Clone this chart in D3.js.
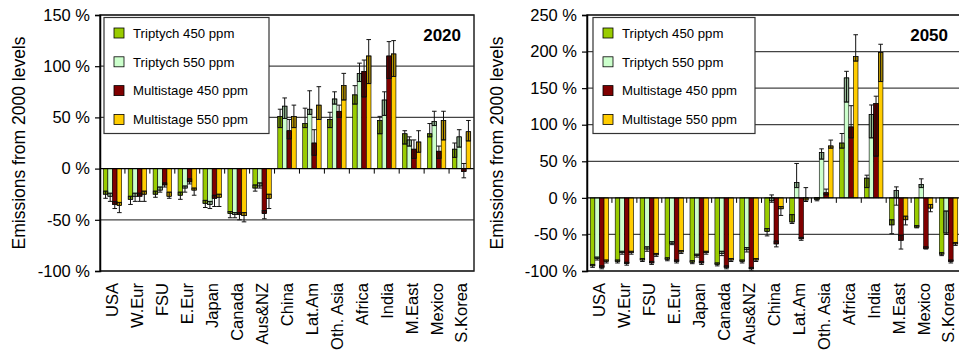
<!DOCTYPE html>
<html><head><meta charset="utf-8">
<script src="https://cdn.jsdelivr.net/npm/d3@7"></script>
<style>
html,body{margin:0;padding:0;background:#fff;}
svg{display:block;font-family:"Liberation Sans",Arial,sans-serif;}
</style></head>
<body><svg id="c" width="959" height="360"></svg>
<script>
const categories = ["USA","W.Eur","FSU","E.Eur","Japan","Canada","Aus&NZ","China","Lat.Am","Oth. Asia","Africa","India","M.East","Mexico","S.Korea"];
const seriesNames = ["Triptych 450 ppm","Triptych 550 ppm","Multistage 450 ppm","Multistage 550 ppm"];
const seriesColors = ["#99cc00","#ccffcc","#800000","#ffcc00"];
const ticks2020 = [-100,-50,0,50,100,150];
const ticks2050 = [-100,-50,0,50,100,150,200,250];

// 2020 values (% change from 2000), with error-range low / high
const t450_2020     = [-25,-30,-25,-26,-34,-44,-19, 51, 44, 48, 72, 47, 34, 34, 19];
const t450_2020_lo  = [-29,-35,-28,-30,-38,-48,-22, 40, 40, 40, 63, 34, 24, 31, 11];
const t450_2020_hi  = [-22,-27,-22,-23,-31,-42,-16, 58, 59, 55, 81, 51, 37, 44, 25];
const t550_2020     = [-27,-27,-21,-19,-35,-45,-17, 61, 58, 68, 93, 67, 28, 46, 31];
const t550_2020_lo  = [-32,-32,-23,-23,-39,-48,-19, 49, 53, 63, 85, 52, 22, 42, 21];
const t550_2020_hi  = [-24,-24,-18,-17,-32,-43,-14, 69, 76, 75,103, 75, 31, 56, 38];
const m450_2020     = [-35,-27,-16,-13,-29,-45,-44, 37, 25, 56, 95,110, 19, 17, -3];
const m450_2020_lo  = [-39,-32,-18,-15,-37,-50,-49, 29, 13, 50, 70, 88, 10, 10, -9];
const m450_2020_hi  = [-32,-24,-14,-10,-26,-43,-41, 48, 38, 62,106,124, 28, 22,  5];
const m550_2020     = [-36,-25,-27,-21,-28,-46,-29, 51, 62, 81,110,112, 26, 47, 36];
const m550_2020_lo  = [-43,-32,-29,-26,-37,-52,-39, 40, 48, 67, 83, 90, 16, 28, 27];
const m550_2020_hi  = [-33,-22,-23,-19,-25,-43,-25, 62, 80, 93,126,125, 37, 56, 47];

// 2050 values
const t450_2050     = [-93,-87,-85,-84,-88,-91,-87,-46,-33, -2, 75, 27,-37,-40,-77];
const t450_2050_lo  = [-95,-89,-87,-86,-90,-93,-89,-52,-35, -4, 68, 14,-49,-41,-79];
const t450_2050_hi  = [-91,-85,-83,-82,-86,-89,-85,-42,-23,  0, 88, 31,-30,-38,-75];
const t550_2050     = [-83,-75,-70,-62,-79,-76,-71, -4, 21, 62,164,114, 10, 18,-48];
const t550_2050_lo  = [-85,-77,-73,-64,-81,-79,-74, -6, 14, 53,131, 82,-10, 14,-50];
const t550_2050_hi  = [-81,-73,-67,-60,-77,-73,-68,  4, 47, 67,173,127, 15, 26,-18];
const m450_2050     = [-95,-90,-89,-87,-89,-95,-97,-63,-56,  7, 97,129,-58,-69,-87];
const m450_2050_lo  = [-97,-92,-91,-89,-91,-97,-99,-67,-58,  4, 82, 57,-70,-70,-89];
const m450_2050_hi  = [-93,-88,-87,-85,-87,-93,-95,-59,-54, 12,126,139,-51,-67,-85];
const m550_2050     = [-87,-75,-78,-74,-75,-85,-85,-15, -3, 71,193,199,-30,-14,-63];
const m550_2050_lo  = [-89,-77,-80,-76,-77,-87,-87,-24, -5, 68,187,159,-37,-19,-65];
const m550_2050_hi  = [-85,-73,-76,-72,-73,-83,-83,-12, 14, 79,223,210,-25, -9,-61];

const svg = d3.select("#c");

function drawPanel(o) {
  const g = svg.append("g");
  const x0 = d3.scaleBand().domain(categories).range([o.left, o.right]).paddingInner(0.262).paddingOuter(0.131);
  const x1 = d3.scaleBand().domain(seriesNames).range([0, x0.bandwidth()]);
  const y = d3.scaleLinear().domain([o.ticks[0], o.ticks[o.ticks.length-1]]).range([o.bottom, o.top]);

  // gridlines
  g.append("g").selectAll("line").data(o.ticks.filter(t => t !== 0))
    .join("line")
    .attr("x1", o.left).attr("x2", o.right)
    .attr("y1", d => y(d)).attr("y2", d => y(d))
    .attr("stroke", "#444").attr("stroke-width", 1.2);

  const rows = [];
  o.series.forEach((s, si) => {
    categories.forEach((c, ci) => {
      rows.push({c, si, name: seriesNames[si], v: s.v[ci], lo: s.lo[ci], hi: s.hi[ci]});
    });
  });
  const bx = d => x0(d.c) + x1(d.name);
  const bw = x1.bandwidth();

  // bars
  g.append("g").selectAll("rect").data(rows).join("rect")
    .attr("x", bx).attr("width", bw)
    .attr("y", d => y(Math.max(0, d.v)))
    .attr("height", d => Math.abs(y(d.v) - y(0)))
    .attr("fill", d => seriesColors[d.si])
    .attr("stroke", "#000").attr("stroke-width", 0.6);

  // darker band: part of error range inside the bar
  g.append("g").selectAll("rect").data(rows.filter(d => {
      const a = Math.max(Math.min(0, d.v), d.lo), b = Math.min(Math.max(0, d.v), d.hi);
      return b > a;
    })).join("rect")
    .attr("x", bx).attr("width", bw)
    .attr("y", d => y(Math.min(Math.max(0, d.v), d.hi)))
    .attr("height", d => y(Math.max(Math.min(0, d.v), d.lo)) - y(Math.min(Math.max(0, d.v), d.hi)))
    .attr("fill", "#000").attr("fill-opacity", 0.27)
    .attr("stroke", "#000").attr("stroke-width", 0.6);

  // whiskers
  const wg = g.append("g").attr("stroke", "#111").attr("stroke-width", 1);
  wg.selectAll("line.v").data(rows).join("line").attr("class", "v")
    .attr("x1", d => bx(d) + bw/2).attr("x2", d => bx(d) + bw/2)
    .attr("y1", d => y(d.lo)).attr("y2", d => y(d.hi));
  wg.selectAll("line.lo").data(rows).join("line").attr("class", "lo")
    .attr("x1", d => bx(d) + bw/2 - 2.3).attr("x2", d => bx(d) + bw/2 + 2.3)
    .attr("y1", d => y(d.lo)).attr("y2", d => y(d.lo));
  wg.selectAll("line.hi").data(rows).join("line").attr("class", "hi")
    .attr("x1", d => bx(d) + bw/2 - 2.3).attr("x2", d => bx(d) + bw/2 + 2.3)
    .attr("y1", d => y(d.hi)).attr("y2", d => y(d.hi));

  // zero axis with boundary ticks
  g.append("line").attr("x1", o.left).attr("x2", o.right)
    .attr("y1", y(0)).attr("y2", y(0)).attr("stroke", "#000").attr("stroke-width", 1.2);
  g.append("g").selectAll("line").data(categories.slice(1)).join("line")
    .attr("x1", d => x0(d) + x0.bandwidth()/2 - x0.step()/2)
    .attr("x2", d => x0(d) + x0.bandwidth()/2 - x0.step()/2)
    .attr("y1", y(0)).attr("y2", y(0) + 5)
    .attr("stroke", "#000").attr("stroke-width", 1);

  // frame
  g.append("rect").attr("x", o.left).attr("y", o.top)
    .attr("width", o.right - o.left).attr("height", o.bottom - o.top)
    .attr("fill", "none").attr("stroke", "#222").attr("stroke-width", 1.5);

  // y axis
  const ya = g.append("g").attr("transform", `translate(${o.left},0)`)
    .call(d3.axisLeft(y).tickValues(o.ticks).tickSize(5).tickPadding(5).tickFormat(d => d + " %"));
  ya.select(".domain").attr("stroke", "#000").attr("stroke-width", 1.5);
  ya.selectAll(".tick line").attr("stroke", "#000").attr("stroke-width", 1.2);
  ya.selectAll("text").attr("font-size", "16.5px").attr("fill", "#000")
    .attr("font-family", '"Liberation Sans",Arial,sans-serif');

  // x axis labels
  const xa = g.append("g").attr("transform", `translate(0,${o.bottom})`)
    .call(d3.axisBottom(x0).tickSize(0).tickPadding(0));
  xa.select(".domain").remove();
  xa.selectAll("text")
    .attr("font-size", "16.5px").attr("fill", "#000")
    .attr("font-family", '"Liberation Sans",Arial,sans-serif')
    .attr("transform", "rotate(-90)")
    .attr("text-anchor", "end")
    .attr("x", -12).attr("y", 0).attr("dy", "0.36em");

  // axis title
  g.append("text")
    .attr("transform", `translate(${o.titleX},${(o.top + o.bottom)/2}) rotate(-90)`)
    .attr("text-anchor", "middle").attr("dy", "0.35em")
    .attr("font-size", "17.5px").attr("fill", "#000")
    .text("Emissions from 2000 levels");

  // year label
  g.append("text").attr("x", o.right - 13).attr("y", 41)
    .attr("text-anchor", "end").attr("font-weight", "bold").attr("font-size", "17px")
    .text(o.year);

  // legend
  const lg = g.append("g").attr("transform", `translate(${o.legendX},17.5)`);
  lg.append("rect").attr("width", o.legendW).attr("height", 116)
    .attr("fill", "#fff").attr("stroke", "#333").attr("stroke-width", 1.2);
  const items = lg.selectAll("g").data(seriesNames).join("g")
    .attr("transform", (d, i) => `translate(0,${15.5 + i * 28.8})`);
  items.append("rect").attr("x", 10).attr("y", -5).attr("width", 10).attr("height", 10)
    .attr("fill", (d, i) => seriesColors[i]).attr("stroke", "#000").attr("stroke-width", 0.8);
  items.append("text").attr("x", 29).attr("dy", "0.36em")
    .attr("font-size", "13.2px").attr("fill", "#000").text(d => d);
}

drawPanel({
  left: 100, right: 474, top: 15, bottom: 271, ticks: ticks2020, year: "2020",
  titleX: 19, legendX: 104, legendW: 165,
  series: [
    {v: t450_2020, lo: t450_2020_lo, hi: t450_2020_hi},
    {v: t550_2020, lo: t550_2020_lo, hi: t550_2020_hi},
    {v: m450_2020, lo: m450_2020_lo, hi: m450_2020_hi},
    {v: m550_2020, lo: m550_2020_lo, hi: m550_2020_hi}
  ]
});
drawPanel({
  left: 587, right: 961, top: 15, bottom: 271, ticks: ticks2050, year: "2050",
  titleX: 497, legendX: 593, legendW: 162,
  series: [
    {v: t450_2050, lo: t450_2050_lo, hi: t450_2050_hi},
    {v: t550_2050, lo: t550_2050_lo, hi: t550_2050_hi},
    {v: m450_2050, lo: m450_2050_lo, hi: m450_2050_hi},
    {v: m550_2050, lo: m550_2050_lo, hi: m550_2050_hi}
  ]
});
</script></body></html>
